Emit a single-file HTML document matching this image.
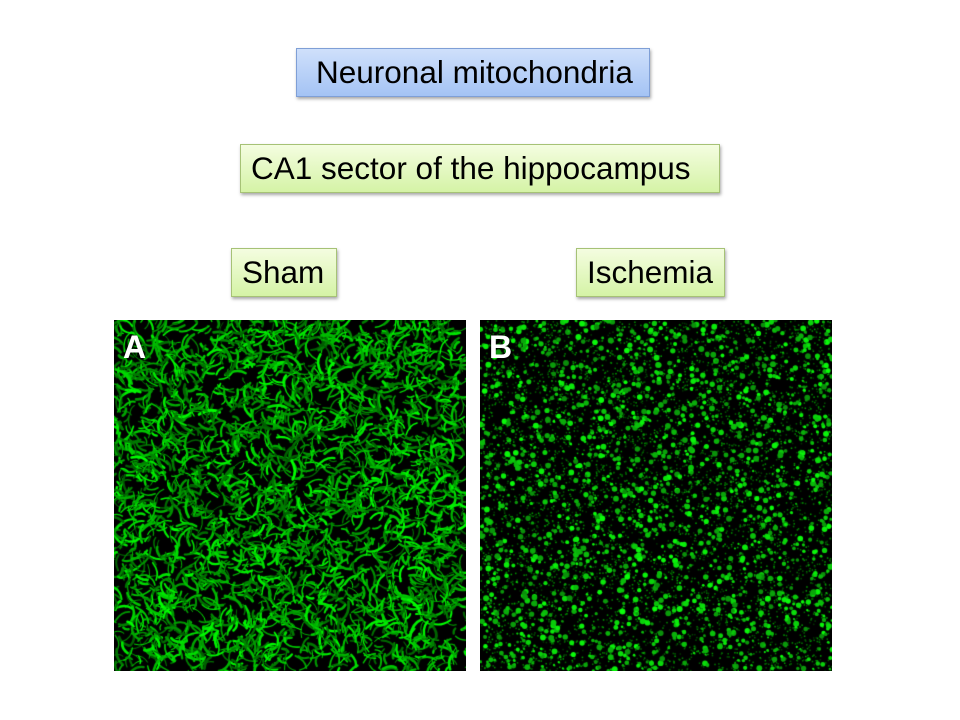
<!DOCTYPE html>
<html><head><style>
body{margin:0;width:960px;height:720px;background:#fff;position:relative;overflow:hidden;font-family:"Liberation Sans",sans-serif}
.b{position:absolute;box-sizing:border-box;font-size:31.5px;line-height:47px;color:#000;box-shadow:1px 2px 3px rgba(0,0,0,.35);white-space:nowrap}
.blue{background:linear-gradient(#cfe0fb,#a4c3f4);border:1px solid #7f9fd6}
.green{background:linear-gradient(#f4fde0,#d5f3a6);border:1px solid #a6c276}
canvas{position:absolute;background:#000}
.l{position:absolute;color:#fff;font-weight:bold;font-size:32px}
</style></head><body>
<div class="b blue" style="left:296px;top:48px;width:354px;height:49px;padding-left:19px">Neuronal mitochondria</div>
<div class="b green" style="left:240px;top:144px;width:480px;height:49px;padding-left:10px">CA1 sector of the hippocampus</div>
<div class="b green" style="left:231px;top:248px;width:106px;height:49px;padding-left:10px">Sham</div>
<div class="b green" style="left:576px;top:248px;width:149px;height:49px;padding-left:10px">Ischemia</div>
<canvas id="a" width="352" height="351" style="left:114px;top:320px"></canvas>
<canvas id="c" width="352" height="351" style="left:480px;top:320px"></canvas>
<div class="l" style="left:123px;top:329px">A</div>
<div class="l" style="left:489px;top:329px">B</div>
<script>
var s=12345;function r(){s=(s*1103515245+12345)%2147483648;return s/2147483648;}
var a=document.getElementById('a').getContext('2d');
a.fillStyle='#000';a.fillRect(0,0,352,351);
a.lineCap='round';
for(var i=0;i<3000;i++){var x=r()*352,y=r()*351,an=r()*6.28,l=5+r()*16;
var g=90+Math.floor(r()*165);a.strokeStyle='rgb(0,'+g+',0)';a.lineWidth=0.8+r()*2;
a.beginPath();a.moveTo(x,y);a.quadraticCurveTo(x+Math.cos(an+0.6)*l/2,y+Math.sin(an+0.6)*l/2,x+Math.cos(an)*l,y+Math.sin(an)*l);a.stroke();}
var c=document.getElementById('c').getContext('2d');
c.fillStyle='#000';c.fillRect(0,0,352,351);
for(var i=0;i<7000;i++){var x=r()*352,y=r()*351,g=50+Math.floor(r()*120);c.fillStyle='rgb(0,'+g+',0)';c.fillRect(x,y,1.5,1.5);}
for(var i=0;i<1900;i++){var x=r()*352,y=r()*351,g=140+Math.floor(r()*115),rad=1+r()*2;
c.fillStyle='rgb(10,'+g+',10)';c.beginPath();c.arc(x,y,rad,0,6.28);c.fill();}
</script>
</body></html>
